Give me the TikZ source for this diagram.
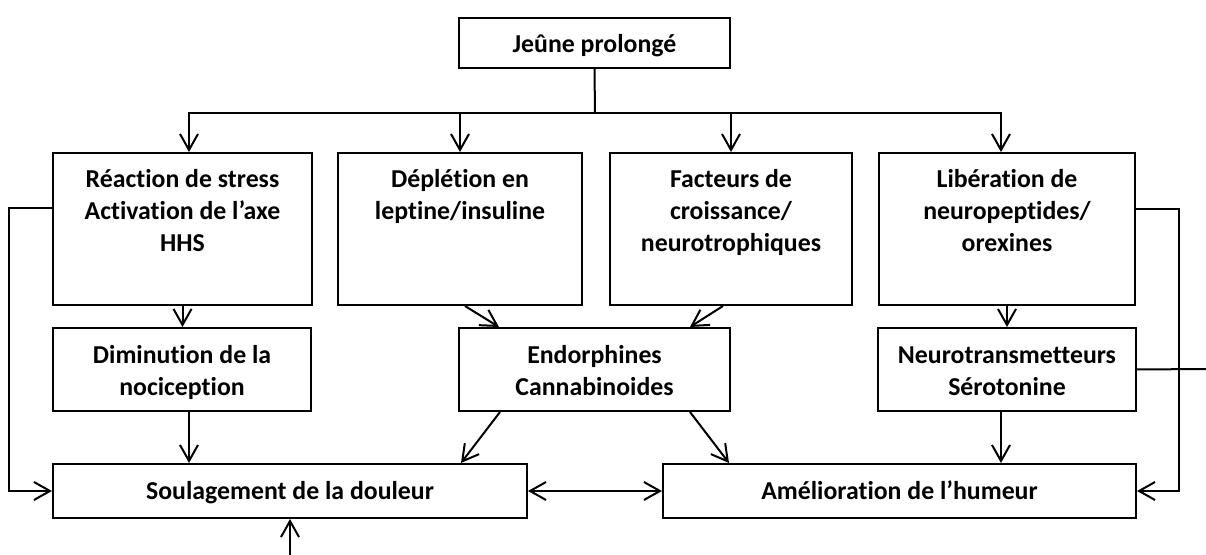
\documentclass[tikz,border=0pt]{standalone}
\usepackage{fontspec}
\setmainfont[Ligatures=NoCommon]{Carlito}
\usetikzlibrary{arrows.meta}
\begin{document}
\begin{tikzpicture}[x=0.5pt,y=-0.5pt,
  box/.style={draw, line width=1pt, rectangle, inner sep=0pt},
  txt/.style={anchor=north, align=center, inner sep=0pt, font=\bfseries\fontsize{12.9}{16}\selectfont},
  arr/.style={line width=1pt, -{Straight Barb[length=8pt,width=9pt]}},
  arrb/.style={line width=1pt, {Straight Barb[length=8pt,width=9pt]}-{Straight Barb[length=8pt,width=9pt]}},
  ln/.style={line width=1pt}]
\useasboundingbox (0,0) rectangle (1206,555);
% boxes
\node[box, minimum width=135.5pt, minimum height=25pt] (jeune) at (594.5,43) {};
\node[box, minimum width=129.5pt, minimum height=76pt] (react) at (182.5,229) {};
\node[box, minimum width=122pt, minimum height=76pt] (deple) at (460,229) {};
\node[box, minimum width=121pt, minimum height=76pt] (facte) at (731,229) {};
\node[box, minimum width=128pt, minimum height=76pt] (liber) at (1007,229) {};
\node[box, minimum width=129pt, minimum height=41.5pt] (dimin) at (182,369.5) {};
\node[box, minimum width=135.5pt, minimum height=41.5pt] (endor) at (594.5,369.5) {};
\node[box, minimum width=129pt, minimum height=41.5pt] (neuro) at (1007,369.5) {};
\node[box, minimum width=237pt, minimum height=27pt] (soula) at (290,491) {};
\node[box, minimum width=236.5pt, minimum height=27pt] (ameli) at (899.5,491) {};
% texts
\node[txt] (jeuneT) at (594.5,30) {\rule{0pt}{11pt}Jeûne prolongé};
\node[txt] (reactT) at (182.5,165) {\rule{0pt}{11pt}Réaction de stress\\Activation de l’axe\\HHS};
\node[txt] (depleT) at (460,165) {\rule{0pt}{11pt}Déplétion en\\leptine/insuline};
\node[txt] (facteT) at (731,165) {\rule{0pt}{11pt}Facteurs de\\croissance/\\neurotrophiques};
\node[txt] (liberT) at (1007,165) {\rule{0pt}{11pt}Libération de\\neuropeptides/\\orexines};
\node[txt] (diminT) at (182,341) {\rule{0pt}{11pt}Diminution de la\\nociception};
\node[txt] (endorT) at (594.5,341) {\rule{0pt}{11pt}Endorphines\\Cannabinoides};
\node[txt] (neuroT) at (1007,341) {\rule{0pt}{11pt}Neurotransmetteurs\\Sérotonine};
\node[txt] (soulaT) at (290,477) {\rule{0pt}{11pt}Soulagement de la douleur};
\node[txt] (ameliT) at (899.5,477) {\rule{0pt}{11pt}Amélioration de l’humeur};
% connectors
\coordinate (bus) at (595,113);
\draw[ln] (jeune.south) -- (bus);
\draw[arr] (bus) -| ([xshift=3.25pt]react.north);
\draw[arr] (bus) -| (deple.north);
\draw[arr] (bus) -| (facte.north);
\draw[arr] (bus) -| ([xshift=-3pt]liber.north);
\draw[arr] (react.south) -- (react.south |- dimin.north);
\draw[arr] ([xshift=3.5pt]dimin.south) -- ([xshift=3.5pt]dimin.south |- soula.north);
\draw[arr] ([xshift=2.5pt]deple.south) -- ([xshift=-47.75pt]endor.north);
\draw[arr] ([xshift=-4pt]facte.south) -- ([xshift=47.75pt]endor.north);
\draw[arr] ([xshift=-47.25pt]endor.south) -- ([xshift=85.5pt]soula.north);
\draw[arr] ([xshift=47.75pt]endor.south) -- ([xshift=-85.25pt]ameli.north);
\draw[arr] (liber.south) -- (liber.south |- neuro.north);
\draw[arr] ([xshift=-3pt]neuro.south) -- ([xshift=-3pt]neuro.south |- ameli.north);
\draw[arr] ([yshift=10.5pt]react.west) -| ([xshift=-21.5pt]soula.west) -- (soula.west);
\draw[arr] ([yshift=10pt]liber.east) -| ([xshift=21pt]ameli.east) -- (ameli.east);
\coordinate (rout) at (1206,369);
\draw[ln] (neuro.east) -- (rout);
\coordinate (bin) at (290,555);
\draw[arr] (bin) -- (soula.south);
\draw[arrb] (soula.east) -- (ameli.west);
\end{tikzpicture}
\end{document}
